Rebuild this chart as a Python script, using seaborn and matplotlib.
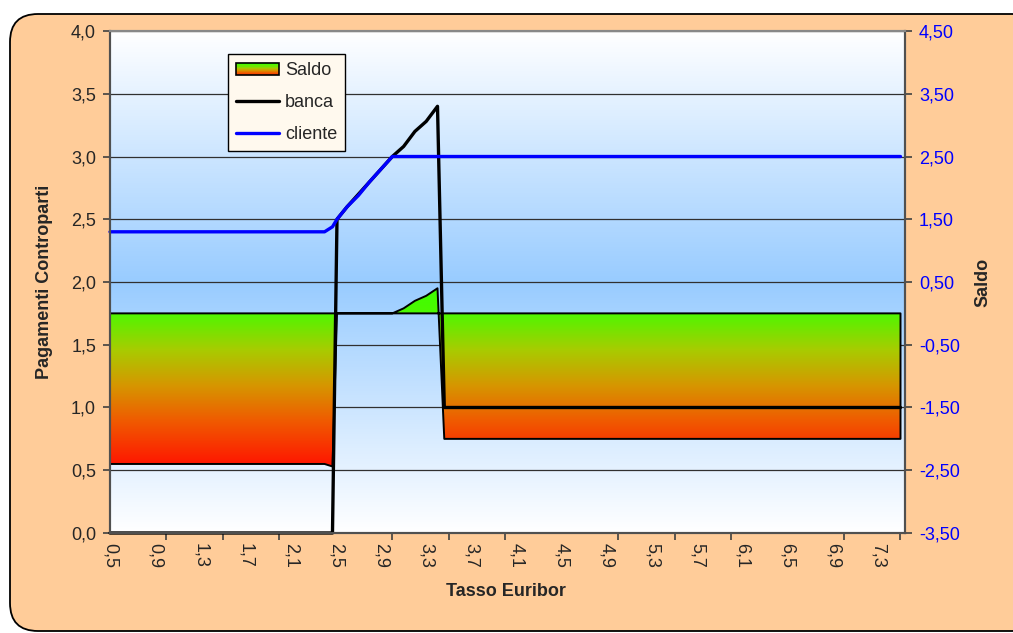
import numpy as np
import pandas as pd
import matplotlib
matplotlib.use('Agg')
import matplotlib.pyplot as plt
import seaborn as sns
from matplotlib.colors import LinearSegmentedColormap
from matplotlib.patches import FancyBboxPatch, Rectangle
from matplotlib.legend_handler import HandlerBase
from matplotlib.lines import Line2D
from matplotlib.ticker import FuncFormatter, MultipleLocator

# data (Tasso Euribor vs payments)
tasso = [0.50, 2.40, 2.47, 2.51, 2.60, 2.70, 2.80, 2.90, 3.00, 3.10, 3.20, 3.30, 3.40, 3.46, 7.50]
banca = [0.00, 0.00, 0.00, 2.50, 2.60, 2.70, 2.80, 2.90, 3.00, 3.08, 3.20, 3.28, 3.40, 1.00, 1.00]
cliente = [2.40, 2.40, 2.44, 2.50, 2.60, 2.69, 2.80, 2.90, 3.00, 3.00, 3.00, 3.00, 3.00, 3.00, 3.00]
saldo = [-2.40, -2.40, -2.44, 0.00, 0.00, 0.00, 0.00, 0.00, 0.00, 0.08, 0.20, 0.28, 0.40, -2.00, -2.00]

x_labels = np.arange(0.5, 7.35, 0.4)

df = pd.DataFrame({'tasso': tasso, 'banca': banca, 'cliente': cliente, 'saldo': saldo})

sns.set_style('white')
plt.rcParams['font.family'] = ['Liberation Sans', 'DejaVu Sans']

saldo_cmap = LinearSegmentedColormap.from_list('saldo', [
    (0.00, '#FF1400'), (0.25, '#F05A00'), (0.45, '#D69600'),
    (0.65, '#A8CC00'), (0.86, '#4CF800'), (1.00, '#3CFF00')])
bg_cmap = LinearSegmentedColormap.from_list('bg', ['#FFFFFF', '#99CCFF'])


class GradientHandler(HandlerBase):
    def create_artists(self, legend, orig_handle, xdescent, ydescent,
                       width, height, fontsize, trans):
        arts = []
        n = 10
        for i in range(n):
            c = saldo_cmap(0.95 - 0.75 * i / (n - 1))
            r = Rectangle((-xdescent, -ydescent + height * (n - 1 - i) / n),
                          width, height / n, facecolor=c, edgecolor='none',
                          transform=trans)
            arts.append(r)
        arts.append(Rectangle((-xdescent, -ydescent), width, height,
                              facecolor='none', edgecolor='black', lw=1.2,
                              transform=trans))
        return arts


fig = plt.figure(figsize=(10.13, 6.33), dpi=100)
fig.patch.set_facecolor('white')
bgbox = FancyBboxPatch((10, 2), 1030, 617, boxstyle='round,pad=0,rounding_size=28',
                       transform=None, facecolor='#FFCC99', edgecolor='black',
                       lw=1.3, zorder=-5)
fig.add_artist(bgbox)

ax = fig.add_axes([0.1086, 0.158, 0.7848, 0.793])
ax2 = ax.twinx()
ax.set_zorder(ax2.get_zorder() + 1)
ax.patch.set_visible(False)

# plot area background gradient (white - light blue - white)
t = np.linspace(0, 1, 300).reshape(-1, 1)
ax2.imshow(1 - np.abs(t - 0.5) * 2, extent=[0, 1, 0, 1], transform=ax2.transAxes,
           aspect='auto', cmap=bg_cmap, origin='lower', zorder=0)

# saldo area with vertical gradient
poly = ax2.fill_between(df['tasso'], 0, df['saldo'], facecolor='none',
                        edgecolor='black', lw=1.4, zorder=3)
grad = np.linspace(0, 1, 256).reshape(-1, 1)
img = ax2.imshow(grad, extent=[min(tasso), max(tasso), min(saldo), max(saldo)],
                 origin='lower', aspect='auto', cmap=saldo_cmap, zorder=2)
img.set_clip_path(poly.get_paths()[0], transform=ax2.transData)

# payment lines
sns.lineplot(data=df, x='tasso', y='banca', ax=ax, color='black', lw=2.4,
             estimator=None, sort=False, clip_on=False, legend=False)
sns.lineplot(data=df, x='tasso', y='cliente', ax=ax, color='#0000FF', lw=2.4,
             estimator=None, sort=False, clip_on=False, legend=False)

# axes limits & ticks
ax.set_xlim(0.5, 7.54)
ax.set_ylim(0, 4)
ax2.set_ylim(-3.5, 4.5)
ax.set_yticks(np.arange(0, 4.01, 0.5))
ax2.set_yticks(np.arange(-3.5, 4.51, 1.0))
ax.yaxis.set_major_formatter(FuncFormatter(lambda v, p: f"{v:.1f}".replace('.', ',')))
ax2.yaxis.set_major_formatter(FuncFormatter(lambda v, p: f"{v:.2f}".replace('.', ',')))
ax.set_xticks(x_labels)
ax.set_xticklabels([f"{v:.1f}".replace('.', ',') for v in x_labels], rotation=-90)
ax.xaxis.set_minor_locator(MultipleLocator(0.5))

ax2.set_axisbelow(True)
ax2.yaxis.grid(True, color='#303030', lw=0.9)
ax.grid(False)

ax.tick_params(axis='x', which='major', length=0, pad=7, labelsize=13)
ax.tick_params(axis='x', which='minor', length=5, width=1.2, color='#404040', direction='out', bottom=True)
ax.tick_params(axis='y', length=5, width=1.2, color='#404040', direction='out', pad=5, labelsize=13, left=True)
ax2.tick_params(axis='y', length=5, width=1.2, color='#404040', direction='out', pad=5,
                labelsize=13, labelcolor='#0000FF', right=True)

for a in (ax, ax2):
    for s in a.spines.values():
        s.set_color('#505050')
        s.set_linewidth(1.5)
    a.spines['top'].set_color('#888888')

ax.set_xlabel('Tasso Euribor', fontsize=13, fontweight='bold', va='center')
ax.xaxis.set_label_coords(0.498, -0.1175)
ax.set_ylabel('Pagamenti Controparti', fontsize=13, fontweight='bold', va='center')
ax.yaxis.set_label_coords(-0.082, 0.5)
ax2.set_ylabel('Saldo', fontsize=13, fontweight='bold', va='center')
ax2.yaxis.set_label_coords(1.098, 0.5)

saldo_proxy = Rectangle((0, 0), 1, 1)
handles = [saldo_proxy,
           Line2D([], [], color='black', lw=2.4),
           Line2D([], [], color='#0000FF', lw=2.4)]
leg = ax.legend(handles, ['Saldo', 'banca', 'cliente'], loc='upper left',
                bbox_to_anchor=(0.1484, 0.954), borderaxespad=0, fontsize=13,
                frameon=True, fancybox=False, framealpha=1, edgecolor='black',
                facecolor='#FFF9EE', handlelength=2.4, handletextpad=0.3,
                labelspacing=0.82, borderpad=0.45, handleheight=0.6,
                handler_map={saldo_proxy: GradientHandler()})
leg.get_frame().set_linewidth(1.0)

fig.savefig('out.png', dpi=100)
